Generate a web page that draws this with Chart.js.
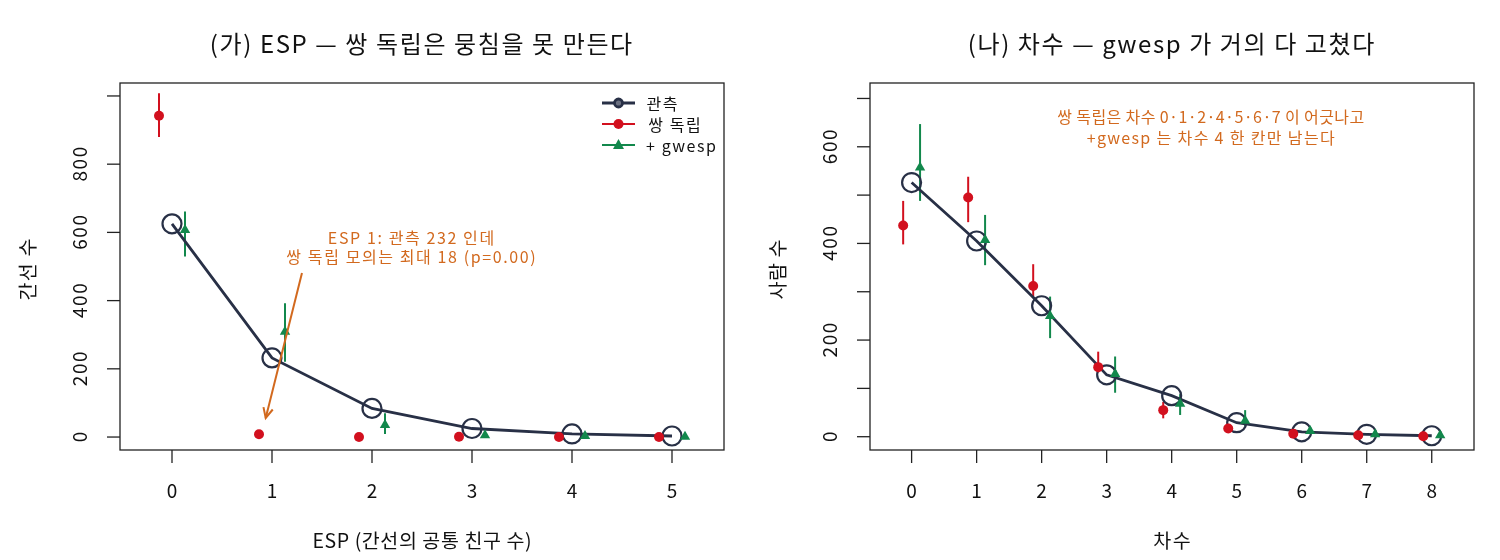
<!DOCTYPE html>
<html><head><meta charset="utf-8">
<script src="https://cdn.jsdelivr.net/npm/chart.js@4/dist/chart.umd.min.js"></script>
<style>
html,body{margin:0;padding:0;background:#fff;}
#wrap{position:relative;width:1500px;height:560px;}
.c{position:absolute;top:0;width:750px;height:560px;}
</style></head>
<body><div id="wrap">
<div class="c" style="left:0"><canvas id="c1" width="750" height="560"></canvas></div>
<div class="c" style="left:750px"><canvas id="c2" width="750" height="560"></canvas></div>
</div>
<script>
// ---- data: panel (가) ESP ----
const espCats = [0, 1, 2, 3, 4, 5];
const espObs = [625, 232, 84, 25, 9, 3];
const espInd = [942, 8, 0, 1, 0, 0];
const espIndLo = [880, 8, 0, 1, 0, 0];
const espIndHi = [1008, 8, 0, 1, 0, 0];
const espGw = [607, 309, 35, 5, 3, 1];
const espGwLo = [529, 221, 9, 5, 3, 1];
const espGwHi = [661, 392, 70, 5, 3, 1];
const espYTicks = [0, 200, 400, 600, 800, 1000];
const espYLabels = ['0', '200', '400', '600', '800', ''];

// ---- data: panel (나) 차수 ----
const degCats = [0, 1, 2, 3, 4, 5, 6, 7, 8];
const degObs = [526, 405, 271, 128, 85, 29, 10, 5, 2];
const degInd = [437, 495, 312, 144, 55, 17, 6, 3, 1];
const degIndLo = [398, 444, 290, 133, 38, 12, 6, 3, 1];
const degIndHi = [488, 538, 357, 176, 72, 22, 6, 3, 1];
const degGw = [557, 407, 250, 130, 68, 33, 12, 5, 3];
const degGwLo = [488, 355, 204, 91, 45, 22, 12, 5, 3];
const degGwHi = [647, 459, 290, 166, 88, 55, 12, 5, 3];
const degYTicks = [0, 100, 200, 300, 400, 500, 600, 700];
const degYLabels = ['0', '', '200', '', '400', '', '600', ''];

const COL_OBS = '#283046', COL_IND = '#d2101e', COL_GW = '#12884c', COL_ANN = '#d2691e';
const FONT = '"Noto Sans CJK KR", "Noto Sans", sans-serif';
const OFF = 0.13;

function pts(cats, vals, off) { return cats.map((c, i) => ({x: c + off, y: vals[i]})); }

// draw text centred at (cx, cy), widened slightly by letter spacing towards a target width
function fitText(ctx, text, cx, cy, target, rot) {
  ctx.save();
  ctx.translate(cx, cy);
  if (rot) ctx.rotate(rot);
  ctx.letterSpacing = '0px';
  const n = [...text].length;
  const w = ctx.measureText(text).width;
  let ls = 0;
  if (target && n > 1) ls = Math.min(1.6, Math.max(0, (target - w) / (n - 1)));
  ctx.letterSpacing = ls + 'px';
  ctx.textAlign = 'left';
  const tw = w + ls * (n - 1);
  ctx.fillText(text, -tw / 2, 0);
  ctx.restore();
}

function makeChart(id, cfg) {
  const plugin = {
    id: 'decor' + id,
    beforeDatasetsDraw(chart) {
      const ctx = chart.ctx, xs = chart.scales.x, ys = chart.scales.y;
      ctx.save();
      ctx.lineWidth = 2;
      cfg.bars.forEach(b => {
        ctx.strokeStyle = b.color;
        b.cats.forEach((c, i) => {
          if (b.hi[i] === b.lo[i]) return;
          const x = xs.getPixelForValue(c + b.off);
          ctx.beginPath();
          ctx.moveTo(x, ys.getPixelForValue(b.lo[i]));
          ctx.lineTo(x, ys.getPixelForValue(b.hi[i]));
          ctx.stroke();
        });
      });
      ctx.restore();
    },
    afterDraw(chart) {
      const ctx = chart.ctx, a = chart.chartArea, xs = chart.scales.x, ys = chart.scales.y;
      ctx.save();
      ctx.textBaseline = 'middle';
      // box
      ctx.strokeStyle = '#222'; ctx.lineWidth = 1.3;
      ctx.strokeRect(a.left, a.top, a.right - a.left, a.bottom - a.top);
      ctx.fillStyle = '#111';
      ctx.font = '19px ' + FONT;
      // x ticks
      cfg.xTicks.forEach(t => {
        const x = xs.getPixelForValue(t);
        ctx.beginPath(); ctx.moveTo(x, a.bottom); ctx.lineTo(x, a.bottom + 13); ctx.stroke();
        fitText(ctx, String(t), x, a.bottom + 41, 0);
      });
      // y ticks
      cfg.yTicks.forEach((t, i) => {
        const y = ys.getPixelForValue(t);
        ctx.beginPath(); ctx.moveTo(a.left, y); ctx.lineTo(a.left - 13, y); ctx.stroke();
        if (cfg.yLabels[i]) {
          const lab = cfg.yLabels[i];
          fitText(ctx, lab, a.left - 40, y, lab.length > 1 ? 36 : 0, -Math.PI / 2);
        }
      });
      // axis titles
      ctx.font = '19.5px ' + FONT;
      fitText(ctx, cfg.xTitle, (a.left + a.right) / 2, 541, cfg.xTitleW);
      fitText(ctx, cfg.yTitle, a.left - 92, (a.top + a.bottom) / 2 + 3, cfg.yTitleW, -Math.PI / 2);
      // main title
      ctx.font = '24px ' + FONT;
      fitText(ctx, cfg.title, cfg.titleX, 44, cfg.titleW);
      // annotation
      ctx.fillStyle = COL_ANN; ctx.font = '16px ' + FONT;
      cfg.ann.lines.forEach((l, i) => {
        fitText(ctx, l, xs.getPixelForValue(cfg.ann.x), ys.getPixelForValue(cfg.ann.y[i]), cfg.ann.w[i]);
      });
      if (cfg.arrow) {
        const x0 = xs.getPixelForValue(cfg.arrow[0]), y0 = ys.getPixelForValue(cfg.arrow[1]);
        const x1 = xs.getPixelForValue(cfg.arrow[2]), y1 = ys.getPixelForValue(cfg.arrow[3]);
        ctx.strokeStyle = COL_ANN; ctx.lineWidth = 2;
        ctx.beginPath(); ctx.moveTo(x0, y0); ctx.lineTo(x1, y1); ctx.stroke();
        const ang = Math.atan2(y1 - y0, x1 - x0), L = 11, w = 0.45;
        ctx.beginPath();
        ctx.moveTo(x1 - L * Math.cos(ang - w), y1 - L * Math.sin(ang - w));
        ctx.lineTo(x1, y1);
        ctx.lineTo(x1 - L * Math.cos(ang + w), y1 - L * Math.sin(ang + w));
        ctx.stroke();
      }
      // legend
      if (cfg.legend) {
        const items = [['관측', COL_OBS, 'o', 32], ['쌍 독립', COL_IND, 'c', 57], ['+ gwesp', COL_GW, 't', 70]];
        const lx0 = a.right - 122, lx1 = a.right - 89, tx = a.right - 78;
        ctx.font = '16px ' + FONT;
        items.forEach((it, i) => {
          const y = a.top + 20 + i * 21;
          ctx.strokeStyle = it[1]; ctx.lineWidth = i === 0 ? 3 : 2;
          ctx.beginPath(); ctx.moveTo(lx0, y); ctx.lineTo(lx1, y); ctx.stroke();
          const cx = (lx0 + lx1) / 2;
          ctx.fillStyle = it[1];
          if (it[2] === 'o') {
            ctx.beginPath(); ctx.arc(cx, y, 4, 0, 2 * Math.PI); ctx.fillStyle = '#6b7080'; ctx.fill();
            ctx.lineWidth = 2.8; ctx.stroke();
          } else if (it[2] === 'c') {
            ctx.beginPath(); ctx.arc(cx, y, 5, 0, 2 * Math.PI); ctx.fill();
          } else {
            ctx.beginPath(); ctx.moveTo(cx, y - 6); ctx.lineTo(cx + 5.5, y + 4); ctx.lineTo(cx - 5.5, y + 4); ctx.closePath(); ctx.fill();
          }
          ctx.fillStyle = '#111';
          fitText(ctx, it[0], tx + it[3] / 2, y + 1, it[3]);
        });
      }
      ctx.restore();
    }
  };
  return new Chart(document.getElementById(id), {
    type: 'scatter',
    data: {
      datasets: [
        {data: pts(cfg.cats, cfg.ind, -OFF), pointStyle: 'circle', pointRadius: 5, backgroundColor: COL_IND, borderColor: COL_IND, borderWidth: 0, showLine: false},
        {data: pts(cfg.cats, cfg.gw, OFF), pointStyle: 'triangle', pointRadius: 6, backgroundColor: COL_GW, borderColor: COL_GW, borderWidth: 0, showLine: false},
        {data: pts(cfg.cats, cfg.obs, 0), showLine: true, borderColor: COL_OBS, borderWidth: 2.8, pointStyle: 'circle', pointRadius: 9.5, pointBorderWidth: 2.2, pointBorderColor: COL_OBS, pointBackgroundColor: 'rgba(0,0,0,0)', tension: 0}
      ]
    },
    options: {
      responsive: false, animation: false, devicePixelRatio: 1,
      layout: {padding: {left: 120, right: 26, top: 83, bottom: 110}},
      plugins: {legend: {display: false}, tooltip: {enabled: false}, title: {display: false}},
      scales: {
        x: {type: 'linear', display: false, min: cfg.xMin, max: cfg.xMax},
        y: {type: 'linear', display: false, min: cfg.yMin, max: cfg.yMax}
      }
    },
    plugins: [plugin]
  });
}

makeChart('c1', {
  cats: espCats, obs: espObs, ind: espInd, gw: espGw,
  bars: [{cats: espCats, lo: espIndLo, hi: espIndHi, off: -OFF, color: COL_IND},
         {cats: espCats, lo: espGwLo, hi: espGwHi, off: OFF, color: COL_GW}],
  xMin: -0.52, xMax: 5.52, yMin: -38, yMax: 1038,
  xTicks: espCats, yTicks: espYTicks, yLabels: espYLabels,
  title: '(가) ESP — 쌍 독립은 뭉침을 못 만든다', titleX: 421, titleW: 463,
  xTitle: 'ESP (간선의 공통 친구 수)', xTitleW: 219,
  yTitle: '간선 수', yTitleW: 62,
  ann: {x: 2.39, y: [584, 528], w: [172, 255], lines: ['ESP 1: 관측 232 인데', '쌍 독립 모의는 최대 18 (p=0.00)']},
  arrow: [1.30, 481, 0.937, 56],
  legend: true
});

makeChart('c2', {
  cats: degCats, obs: degObs, ind: degInd, gw: degGw,
  bars: [{cats: degCats, lo: degIndLo, hi: degIndHi, off: -OFF, color: COL_IND},
         {cats: degCats, lo: degGwLo, hi: degGwHi, off: OFF, color: COL_GW}],
  xMin: -0.64, xMax: 8.65, yMin: -27.5, yMax: 732,
  xTicks: degCats, yTicks: degYTicks, yLabels: degYLabels,
  title: '(나) 차수 — gwesp 가 거의 다 고쳤다', titleX: 421, titleW: 442,
  xTitle: '차수', xTitleW: 42,
  yTitle: '사람 수', yTitleW: 60,
  ann: {x: 4.6, y: [661, 618], w: [307, 248], lines: ['쌍 독립은 차수 0·1·2·4·5·6·7 이 어긋나고', '+gwesp 는 차수 4 한 칸만 남는다']},
  arrow: null,
  legend: false
});
</script>
</body></html>
